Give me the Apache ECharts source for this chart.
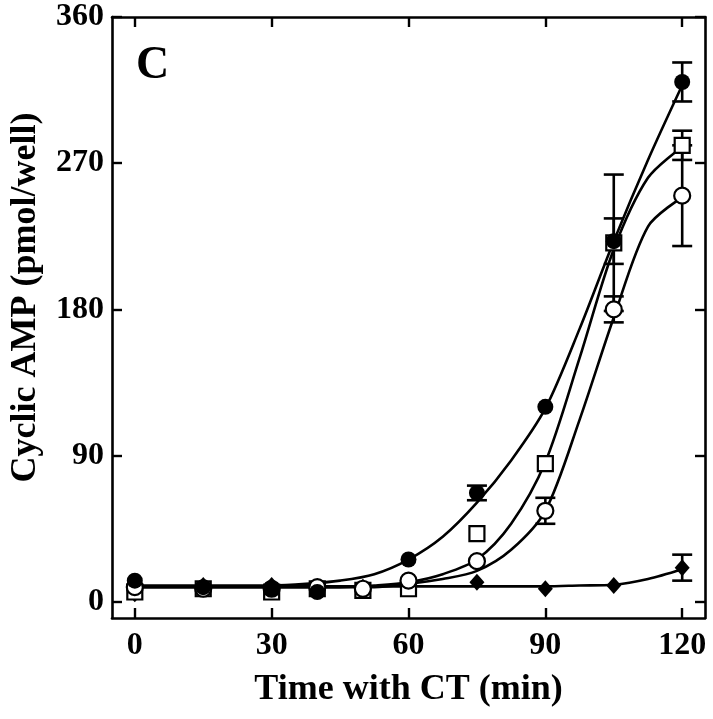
<!DOCTYPE html>
<html><head><meta charset="utf-8">
<script src="https://cdn.jsdelivr.net/npm/echarts@6/dist/echarts.min.js"></script>
<style>html,body{margin:0;padding:0;background:#fff}#c{width:713px;height:719px}</style>
</head><body><div id="c"></div><script>
// ---- data ----
const xTicks = [0, 30, 60, 90, 120];
const yTicks = [0, 90, 180, 270, 360];

const filledX = [0, 15, 30, 40, 60, 75, 90, 105, 120];
const filledY = [13, 9, 8, 6, 26, 67, 120, 222, 320];
const filledErr = [0, 0, 0, 0, 0, 4.5, 0, 14, 12];

const openX = [0, 15, 30, 40, 50, 60, 75, 90, 105, 120];
const openY = [9, 8, 8, 9, 8, 13, 25, 56, 180, 250];
const openErr = [0, 0, 0, 0, 0, 0, 0, 8, 8, 31];

const squareX = [0, 15, 30, 40, 50, 60, 75, 90, 105, 120];
const squareY = [6, 8, 6, 8, 7, 8, 42, 85, 221, 281];
const squareErr = [0, 0, 0, 0, 0, 0, 0, 0, 42, 9];

const diamondX = [0, 15, 30, 50, 75, 90, 105, 120];
const diamondY = [5, 10, 10, 9, 12, 8, 10, 21];
const diamondErr = [0, 0, 0, 0, 0, 0, 0, 8];

// fitted curves, every 7.5 min
const curveX = [0, 7.5, 15, 22.5, 30, 37.5, 45, 52.5, 60, 67.5, 75, 82.5, 90, 97.5, 105, 112.5, 120];
const filledCurveY = [10, 10, 10, 10, 10, 11, 13, 17, 26, 40, 61, 87, 119, 168, 222, 272, 318];
const squareCurveY = [9, 9, 9, 9, 9, 9, 9, 10, 12, 17, 26, 48, 86, 150, 217, 261, 280];
const openCurveY = [9, 9, 9, 9, 9, 9, 9, 9, 11, 14, 19, 32, 56, 112, 175, 231, 249];
const diamondCurveY = [9.5, 9.5, 9.5, 9.5, 9.5, 9.5, 9.5, 9.5, 9.5, 9.5, 9.5, 9.5, 9.5, 10, 10.5, 14, 20];

// ---- build ----
const zip = (xs, ys) => xs.map((x, i) => [x, ys[i]]);
const errData = (xs, ys, es) => xs.map((x, i) => [x, ys[i] - es[i], ys[i] + es[i], es[i]]).filter(d => d[3] > 0);
const FONT = '"Liberation Serif", "Times New Roman", serif';
const LW = 2.6;

function curve(xs, ys) {
  return { type: 'line', data: zip(xs, ys), smooth: 0.3, showSymbol: false, symbol: 'none',
    lineStyle: { color: '#000', width: LW }, silent: true, z: 2 };
}
function errSeries(xs, ys, es) {
  return {
    type: 'custom', data: errData(xs, ys, es), z: 3, silent: true,
    encode: { x: 0, y: [1, 2] },
    renderItem: (params, api) => {
      const x = api.value(0);
      const lo = api.coord([x, api.value(1)]);
      const hi = api.coord([x, api.value(2)]);
      const w = 10;
      const st = { stroke: '#000', lineWidth: LW };
      return { type: 'group', children: [
        { type: 'line', shape: { x1: lo[0], y1: lo[1], x2: hi[0], y2: hi[1] }, style: st },
        { type: 'line', shape: { x1: lo[0] - w, y1: lo[1], x2: lo[0] + w, y2: lo[1] }, style: st },
        { type: 'line', shape: { x1: hi[0] - w, y1: hi[1], x2: hi[0] + w, y2: hi[1] }, style: st }
      ]};
    }
  };
}
function pts(xs, ys, symbol, size, fill, z) {
  return { type: 'scatter', data: zip(xs, ys), symbol, symbolSize: size, z,
    itemStyle: { color: fill, borderColor: '#000', borderWidth: fill === '#fff' ? 2.2 : 0, opacity: 1 } };
}

const axisCommon = {
  type: 'value', splitLine: { show: false },
  axisLine: { show: true, onZero: false, lineStyle: { color: '#000', width: 2.6 } },
  axisTick: { show: true, inside: true, length: 10, lineStyle: { color: '#000', width: 2.4 } }
};

const chart = echarts.init(document.getElementById('c'), null, { renderer: 'canvas' });
chart.setOption({
  animation: false,
  backgroundColor: '#fff',
  grid: { left: 110, right: 8, top: 17, bottom: 101 },
  title: { text: 'C', left: 131, top: 38, textStyle: { fontFamily: FONT, fontWeight: 'bold', fontSize: 46, color: '#000' } },
  xAxis: [
    Object.assign({}, axisCommon, {
      min: -5, max: 125, position: 'bottom',
      axisTick: Object.assign({}, axisCommon.axisTick, { customValues: xTicks }),
      axisLabel: { customValues: xTicks, margin: 12, color: '#000', fontFamily: FONT, fontWeight: 'bold', fontSize: 32 },
      name: 'Time with CT (min)', nameLocation: 'middle', nameGap: 54,
      nameTextStyle: { color: '#000', fontFamily: FONT, fontWeight: 'bold', fontSize: 36 }
    }),
    Object.assign({}, axisCommon, {
      min: -5, max: 125, position: 'top',
      axisTick: Object.assign({}, axisCommon.axisTick, { customValues: xTicks }),
      axisLabel: { show: false }
    })
  ],
  yAxis: [
    Object.assign({}, axisCommon, {
      min: -10, max: 360, position: 'left',
      axisTick: Object.assign({}, axisCommon.axisTick, { customValues: yTicks }),
      axisLabel: { customValues: yTicks, margin: 8, color: '#000', fontFamily: FONT, fontWeight: 'bold', fontSize: 32 },
      name: 'Cyclic AMP (pmol/well)', nameLocation: 'middle', nameGap: 68,
      nameTextStyle: { color: '#000', fontFamily: FONT, fontWeight: 'bold', fontSize: 36, padding: [0, 0, 0, 40] }
    }),
    Object.assign({}, axisCommon, {
      min: -10, max: 360, position: 'right',
      axisTick: Object.assign({}, axisCommon.axisTick, { customValues: yTicks }),
      axisLabel: { show: false }
    })
  ],
  series: [
    curve(curveX, filledCurveY),
    curve(curveX, squareCurveY),
    curve(curveX, openCurveY),
    curve(curveX, diamondCurveY),
    errSeries(filledX, filledY, filledErr),
    errSeries(openX, openY, openErr),
    errSeries(squareX, squareY, squareErr),
    errSeries(diamondX, diamondY, diamondErr),
    pts(diamondX, diamondY, 'diamond', [15, 17], '#000', 4),
    pts(squareX, squareY, 'rect', 15, '#fff', 5),
    pts(openX, openY, 'circle', 16, '#fff', 6),
    pts(filledX, filledY, 'circle', 16, '#000', 7)
  ]
});
</script></body></html>
